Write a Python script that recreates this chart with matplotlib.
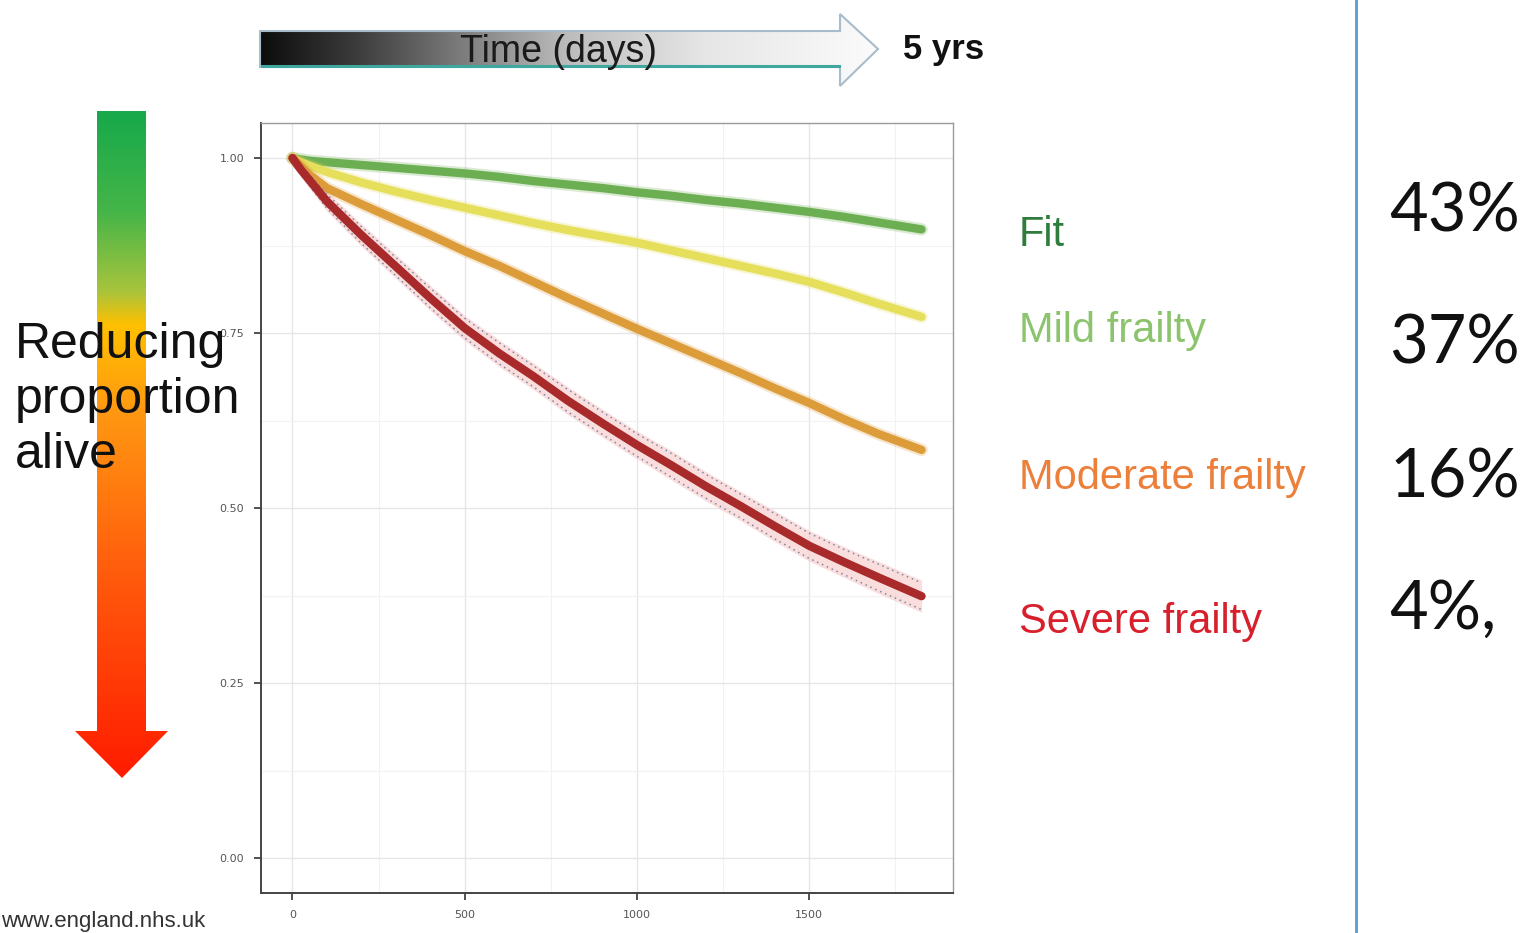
import matplotlib
matplotlib.use("Agg")
import matplotlib.pyplot as plt
import numpy as np
from matplotlib.colors import LinearSegmentedColormap
from matplotlib.patches import Polygon

# survival by frailty group (eFI), days since baseline
days = [0, 25, 50, 100, 200, 300, 400, 500, 600, 700, 800, 900, 1000,
        1100, 1200, 1300, 1400, 1500, 1600, 1700, 1826]
fit = [1.0, 0.998, 0.996, 0.994, 0.990, 0.986, 0.982, 0.978, 0.973, 0.967, 0.962,
       0.957, 0.951, 0.946, 0.940, 0.935, 0.929, 0.923, 0.916, 0.908, 0.898]
mild = [1.0, 0.994, 0.989, 0.980, 0.965, 0.952, 0.940, 0.929, 0.918, 0.907, 0.897,
        0.888, 0.879, 0.868, 0.857, 0.846, 0.835, 0.823, 0.808, 0.792, 0.773]
moderate = [1.0, 0.988, 0.976, 0.957, 0.934, 0.912, 0.890, 0.867, 0.846, 0.823, 0.800,
            0.778, 0.756, 0.735, 0.714, 0.693, 0.671, 0.650, 0.627, 0.606, 0.583]
severe = [1.0, 0.983, 0.968, 0.938, 0.890, 0.845, 0.800, 0.757, 0.721, 0.688, 0.653,
          0.621, 0.590, 0.561, 0.531, 0.503, 0.474, 0.446, 0.423, 0.401, 0.374]
severe_ci = [0.0, 0.006, 0.008, 0.010, 0.012, 0.013, 0.014, 0.014, 0.015, 0.015, 0.016,
             0.016, 0.016, 0.017, 0.017, 0.017, 0.018, 0.018, 0.018, 0.019, 0.019]

groups = ["Fit", "Mild frailty", "Moderate frailty", "Severe frailty"]
group_colors = ["#2f7d3c", "#8cc46e", "#ec7f3a", "#d8202c"]
shares = ["43%", "37%", "16%", "4%,"]

xticks = [0, 500, 1000, 1500]
yticks = [0.0, 0.25, 0.5, 0.75, 1.0]

fig = plt.figure(figsize=(15.24, 9.33), dpi=100)
fig.patch.set_facecolor("white")

# background layer in pixel units for the arrows and annotations
bg = fig.add_axes([0, 0, 1, 1])
bg.set_xlim(0, 1524)
bg.set_ylim(933, 0)
bg.axis("off")

# vertical red-to-green arrow
down_cmap = LinearSegmentedColormap.from_list("down", [
    (0.0, "#17a94b"), (0.15, "#45b548"), (0.27, "#a9c43c"), (0.32, "#ffc000"),
    (0.45, "#ff9812"), (0.70, "#ff5a0c"), (1.0, "#ff1c00")])
grad = np.linspace(0, 1, 256).reshape(-1, 1)
im = bg.imshow(grad, cmap=down_cmap, extent=[75, 168, 778, 111], aspect="auto", zorder=1)
down_arrow = Polygon([(97, 111), (146, 111), (146, 731), (168, 731), (122, 778),
                      (75, 731), (97, 731)], closed=True, facecolor="none", edgecolor="none")
bg.add_patch(down_arrow)
im.set_clip_path(down_arrow)

# horizontal time arrow
time_cmap = LinearSegmentedColormap.from_list("time", [
    (0.0, "#0c0c0c"), (0.15, "#3a3a3a"), (0.32, "#7a7a7a"), (0.5, "#bdbdbd"),
    (0.72, "#e6e6e6"), (1.0, "#fbfbfb")])
hgrad = np.linspace(0, 1, 256).reshape(1, -1)
im2 = bg.imshow(hgrad, cmap=time_cmap, extent=[260, 878, 86, 14], aspect="auto", zorder=1)
time_arrow = Polygon([(260, 31), (840, 31), (840, 14), (878, 49), (840, 86), (840, 67),
                      (260, 67)], closed=True, facecolor="none", edgecolor="#a9bccb", lw=1.5,
                     zorder=2)
bg.add_patch(time_arrow)
im2.set_clip_path(time_arrow)
bg.plot([262, 839], [66, 66], color="#3fa7a0", lw=2.2, zorder=3)
bg.text(559, 52, "Time (days)", fontsize=27, family="Liberation Sans", color="#1a1a1a",
        ha="center", va="center", zorder=4)
bg.text(903, 50, "5 yrs", fontsize=25, family="Liberation Sans", fontweight="bold",
        color="#111111", ha="left", va="center", zorder=4)

# separator and group shares on the right
bg.plot([1356, 1356], [0, 933], color="#5b9bd5", lw=2)
for y, s in zip([212, 344, 478, 610], shares):
    bg.text(1389, y, s, fontsize=48, family="Lato", color="#111111", ha="left", va="center")

# group labels beside the curves
for y, name, c in zip([235, 331, 478, 622], groups, group_colors):
    bg.text(1019, y, name, fontsize=30, family="Liberation Sans", color=c,
            ha="left", va="center")

bg.text(1, 927, "www.england.nhs.uk", fontsize=16, family="Liberation Sans",
        color="#333333", ha="left", va="baseline")

# survival curves
ax = fig.add_axes([261 / 1524, 40 / 933, 692 / 1524, 770 / 933])
ax.set_xlim(-91.3, 1917.3)
ax.set_ylim(-0.05, 1.05)
ax.set_xticks(xticks)
ax.set_yticks(yticks)
ax.set_xticklabels([str(t) for t in xticks])
ax.set_yticklabels(["%.2f" % t for t in yticks])
ax.set_xticks([250, 750, 1250, 1750], minor=True)
ax.set_yticks([0.125, 0.375, 0.625, 0.875], minor=True)
ax.grid(which="major", color="#e6e6e6", lw=1.0)
ax.grid(which="minor", color="#f2f2f2", lw=0.8)
ax.set_axisbelow(True)
ax.tick_params(which="major", length=5, width=1.2, color="#333333", labelsize=8,
               labelcolor="#555555", pad=7)
ax.tick_params(which="minor", length=0)
for side in ["top", "right"]:
    ax.spines[side].set_color("#9a9a9a")
    ax.spines[side].set_linewidth(1.0)
for side in ["left", "bottom"]:
    ax.spines[side].set_color("#444444")
    ax.spines[side].set_linewidth(1.4)

line_colors = ["#6cae52", "#e5df5c", "#dc9c3a"]
for vals, c in zip([fit, mild, moderate], line_colors):
    ax.plot(days, vals, color=c, lw=9, alpha=0.25, solid_capstyle="round")
    ax.plot(days, vals, color=c, lw=6, solid_capstyle="round")

sev = np.array(severe)
ci = np.array(severe_ci)
ax.fill_between(days, sev - ci - 0.004, sev + ci + 0.004, color="#f7c9c9", alpha=0.6, lw=0)
ax.plot(days, sev + ci, color="#7f86a0", lw=1.1, ls=(0, (1, 2.5)))
ax.plot(days, sev - ci, color="#7f86a0", lw=1.1, ls=(0, (1, 2.5)))
ax.plot(days, sev, color="#a82a2a", lw=6, solid_capstyle="round")

# left caption sits on top of the arrow and the tick labels
fig.text(15 / 1524, 1 - 400 / 933, "Reducing\nproportion\nalive", fontsize=36,
         family="Liberation Sans", color="#111111", ha="left", va="center",
         linespacing=1.24, zorder=10)

fig.savefig("out.png", dpi=100, facecolor="white")
